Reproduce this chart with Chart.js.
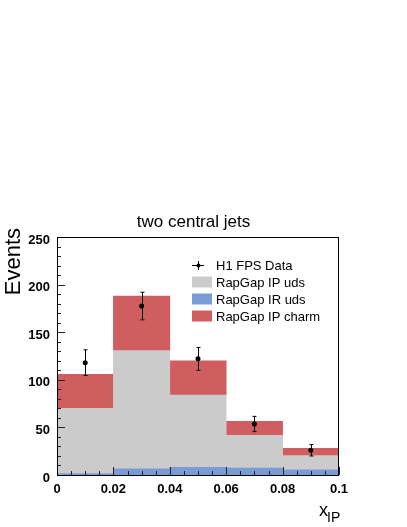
<!DOCTYPE html>
<html>
<head>
<meta charset="utf-8">
<script src="https://cdn.jsdelivr.net/npm/chart.js@4"></script>
<style>
  body { margin: 0; background: #fff; }
  canvas { display: block; }
</style>
</head>
<body>
<canvas id="c" width="407" height="527"></canvas>
<script>
// bin centres of x_IP (bin width 0.02)
var binCenters = [0.01, 0.03, 0.05, 0.07, 0.09];

// stacked MC contributions
var irUds   = [1.5, 6.6, 8.0, 7.4, 5.3];
var ipUds   = [68.5, 124.0, 76.0, 34.3, 15.0];
var ipCharm = [35.8, 57.4, 36.0, 14.7, 7.7];

// H1 FPS data with errors
var dataVals = [118, 177.5, 122, 53.6, 26];
var dataErr  = [13.5, 14.5, 12, 8, 6];

var xTicks = [0, 0.02, 0.04, 0.06, 0.08, 0.1];
var yTicks = [0, 50, 100, 150, 200, 250];

var colGray = '#cbcbcb';
var colBlue = '#7b9bd5';
var colRed  = '#d05d5f';
var FONT = '"Liberation Sans", Arial, Helvetica, sans-serif';

function pts(vals) {
  return vals.map(function (v, i) { return { x: binCenters[i], y: v }; });
}

// title, frame, inside ticks, error bars, legend and axis titles
var rootStyle = {
  id: 'rootStyle',
  afterDatasetsDraw: function (chart) {
    var ctx = chart.ctx;
    var ca = chart.chartArea;
    var xs = chart.scales.x, ys = chart.scales.y;

    ctx.save();
    // error bars
    ctx.strokeStyle = '#000';
    ctx.lineWidth = 1;
    for (var i = 0; i < dataVals.length; i++) {
      var px = Math.round(xs.getPixelForValue(binCenters[i])) + 0.5;
      var hi = ys.getPixelForValue(dataVals[i] + dataErr[i]);
      var lo = ys.getPixelForValue(dataVals[i] - dataErr[i]);
      ctx.beginPath();
      ctx.moveTo(px, hi); ctx.lineTo(px, lo);
      ctx.moveTo(px - 2, hi); ctx.lineTo(px + 2, hi);
      ctx.moveTo(px - 2, lo); ctx.lineTo(px + 2, lo);
      ctx.stroke();
    }

    // ticks inside the frame
    ctx.strokeStyle = '#222';
    ctx.beginPath();
    for (var v = 0; v <= 250; v += 10) {
      var py = Math.round(ys.getPixelForValue(v)) + 0.5;
      var len = v % 50 === 0 ? 8 : 4;
      ctx.moveTo(ca.left, py); ctx.lineTo(ca.left + len, py);
    }
    for (var k = 0; k <= 20; k++) {
      var qx = Math.round(xs.getPixelForValue(k * 0.005)) + 0.5;
      var l2 = k % 4 === 0 ? 8 : 4;
      ctx.moveTo(qx, ca.bottom); ctx.lineTo(qx, ca.bottom - l2);
    }
    ctx.stroke();

    // frame
    ctx.strokeStyle = '#000';
    ctx.strokeRect(Math.round(ca.left) + 0.5, Math.round(ca.top) + 0.5,
                   Math.round(ca.right - ca.left) - 1, Math.round(ca.bottom - ca.top));

    // title
    ctx.fillStyle = '#000';
    ctx.font = '17px ' + FONT;
    ctx.textAlign = 'center';
    ctx.textBaseline = 'alphabetic';
    ctx.fillText('two central jets', 193.5, 227);

    // legend
    var lx = ca.left + 135;
    var rows = [ca.top + 28, ca.top + 45, ca.top + 62, ca.top + 79];
    var names = ['H1 FPS Data', 'RapGap IP uds', 'RapGap IR uds', 'RapGap IP charm'];
    var cols = [null, colGray, colBlue, colRed];
    ctx.font = '13px ' + FONT;
    ctx.textBaseline = 'middle';
    ctx.textAlign = 'left';
    for (var r = 0; r < 4; r++) {
      if (r === 0) {
        ctx.strokeStyle = '#000';
        ctx.beginPath();
        ctx.moveTo(lx, rows[0] + 0.5); ctx.lineTo(lx + 12, rows[0] + 0.5);
        ctx.moveTo(lx + 6.5, rows[0] - 4); ctx.lineTo(lx + 6.5, rows[0] + 5);
        ctx.stroke();
        ctx.fillStyle = '#000';
        ctx.beginPath();
        ctx.arc(lx + 6.5, rows[0] + 0.5, 2, 0, Math.PI * 2);
        ctx.fill();
      } else {
        ctx.fillStyle = cols[r];
        ctx.fillRect(lx, rows[r] - 5.5, 20, 11);
      }
      ctx.fillStyle = '#000';
      ctx.fillText(names[r], lx + 24, rows[r] + 1);
    }

    // axis titles
    ctx.font = '22px ' + FONT;
    ctx.save();
    ctx.translate(20, ca.top - 9);
    ctx.rotate(-Math.PI / 2);
    ctx.textAlign = 'right';
    ctx.textBaseline = 'alphabetic';
    ctx.fillText('Events', 0, 0);
    ctx.restore();

    ctx.textAlign = 'left';
    ctx.textBaseline = 'alphabetic';
    ctx.font = '18px ' + FONT;
    ctx.fillText('x', 319, 516);
    ctx.font = '14px ' + FONT;
    ctx.fillText('IP', 327, 521.5);
    ctx.restore();
  }
};

new Chart(document.getElementById('c'), {
  type: 'bar',
  data: {
    datasets: [
      {
        type: 'scatter', label: 'H1 FPS Data', data: pts(dataVals), stack: 'data',
        order: 0, pointRadius: 2.5, pointBackgroundColor: '#000', pointBorderWidth: 0,
        showLine: false
      },
      { label: 'RapGap IR uds', data: pts(irUds), backgroundColor: colBlue, stack: 'mc', order: 1 },
      { label: 'RapGap IP uds', data: pts(ipUds), backgroundColor: colGray, stack: 'mc', order: 1 },
      { label: 'RapGap IP charm', data: pts(ipCharm), backgroundColor: colRed, stack: 'mc', order: 1 }
    ]
  },
  options: {
    responsive: false,
    animation: false,
    events: [],
    layout: { padding: { left: 0, right: 68, top: 237, bottom: 0 } },
    datasets: {
      bar: { barPercentage: 1, categoryPercentage: 1, borderWidth: 0 }
    },
    plugins: {
      legend: { display: false },
      tooltip: { enabled: false },
      title: { display: false }
    },
    scales: {
      x: {
        type: 'linear', stacked: true, offset: false,
        min: 0, max: 0.1,
        afterBuildTicks: function (s) { s.ticks = xTicks.map(function (v) { return { value: v }; }); },
        afterFit: function (s) { s.height = 52; },
        grid: { display: false, drawTicks: false },
        border: { display: false },
        ticks: {
          color: '#000', padding: 7, maxRotation: 0, autoSkip: false,
          font: { family: FONT, size: 13, weight: 'bold' },
          callback: function (v) { return String(+v.toFixed(2)); }
        }
      },
      y: {
        stacked: true, min: 0, max: 250,
        afterBuildTicks: function (s) { s.ticks = yTicks.map(function (v) { return { value: v }; }); },
        afterFit: function (s) { s.width = 57; },
        grid: { display: false, drawTicks: false },
        border: { display: false },
        ticks: {
          color: '#000', padding: 7, labelOffset: 3,
          font: { family: FONT, size: 13, weight: 'bold' }
        }
      }
    }
  },
  plugins: [rootStyle]
});
</script>
</body>
</html>
